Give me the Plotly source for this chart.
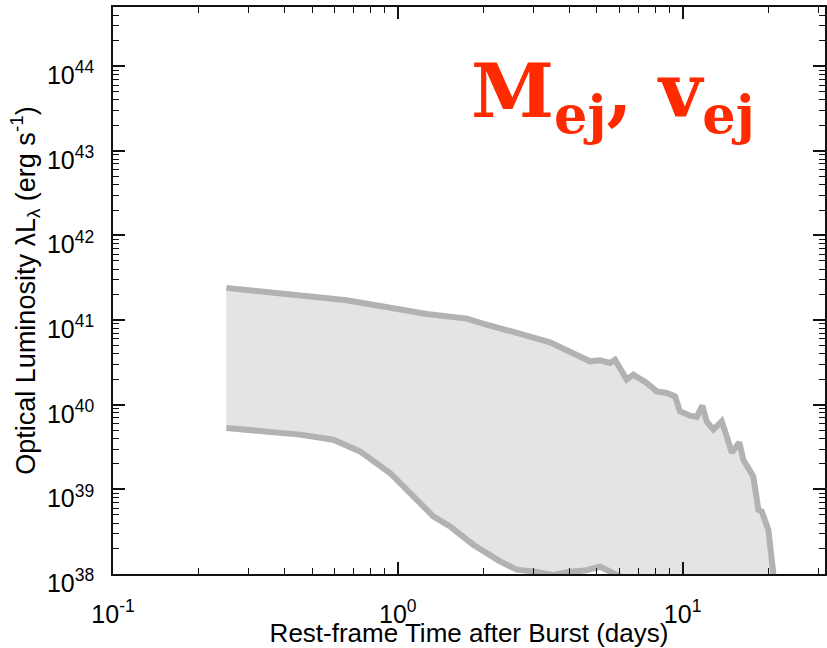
import plotly.graph_objects as go

# Upper envelope (days, log10 erg/s)
upper_t = [0.25, 0.406, 0.662, 1.263, 1.746, 1.991, 2.341, 2.752, 3.422, 4.024, 4.48, 4.73,
           5.129, 5.562, 5.79, 6.365, 6.714, 7.481, 8.11, 8.795, 9.404, 9.79, 10.62, 11.21,
           11.73, 12.15, 12.82, 13.72, 14.28, 14.88, 15.82, 16.34, 17.71, 18.45, 18.96, 20.0,
           20.83, 21.1]
upper_logL = [41.381, 41.307, 41.234, 41.073, 41.018, 40.959, 40.900, 40.829, 40.738, 40.631,
              40.553, 40.513, 40.525, 40.494, 40.533, 40.297, 40.356, 40.258, 40.158, 40.139,
              40.099, 39.922, 39.871, 39.856, 39.989, 39.804, 39.706, 39.804, 39.627, 39.434,
              39.556, 39.351, 39.154, 38.76, 38.74, 38.524, 38.0, 37.7]

# Lower envelope
lower_t = [0.25, 0.4535, 0.5935, 0.7364, 0.9389, 1.104, 1.332, 1.525, 1.841, 2.285, 2.615,
           2.991, 3.516, 4.02, 4.54, 5.13, 5.56, 6.03, 7.7, 11.5, 20.8]
lower_logL = [39.726, 39.647, 39.587, 39.449, 39.194, 38.957, 38.681, 38.563, 38.346, 38.149,
              38.051, 38.031, 37.99, 38.027, 38.04, 38.086, 38.027, 37.96, 37.8, 37.7, 37.6]

upper_L = [10.0 ** v for v in upper_logL]
lower_L = [10.0 ** v for v in lower_logL]

y_ticks = [1e38, 1e39, 1e40, 1e41, 1e42, 1e43, 1e44]
y_ticktext = ["10<sup>38</sup>", "10<sup>39</sup>", "10<sup>40</sup>", "10<sup>41</sup>",
              "10<sup>42</sup>", "10<sup>43</sup>", "10<sup>44</sup>"]
x_ticks = [0.1, 1.0, 10.0]
x_ticktext = ["10<sup>-1</sup>", "10<sup>0</sup>", "10<sup>1</sup>"]

x_minor = [k * 10.0 ** e for e in (-1, 0, 1) for k in range(2, 10) if k * 10.0 ** e <= 31]
y_minor = [k * 10.0 ** e for e in range(38, 45) for k in range(2, 10) if k * 10.0 ** e <= 5e44]

fill_col = "#e4e4e4"
line_col = "#b2b2b2"
axis_col = "#111111"

fig = go.Figure()
fig.add_trace(go.Scatter(
    x=upper_t + lower_t[::-1], y=upper_L + lower_L[::-1],
    fill="toself", fillcolor=fill_col, line=dict(width=0), mode="lines",
    hoverinfo="skip", showlegend=False))
fig.add_trace(go.Scatter(x=upper_t, y=upper_L, mode="lines",
                         line=dict(color=line_col, width=6), showlegend=False))
fig.add_trace(go.Scatter(x=lower_t, y=lower_L, mode="lines",
                         line=dict(color=line_col, width=6), showlegend=False))

tick_font = dict(family="Liberation Sans, Arial, sans-serif", size=25, color="black")
xtitle_font = dict(family="Liberation Sans, Arial, sans-serif", size=26, color="black")
ytitle_font = dict(family="Liberation Sans, Arial, sans-serif", size=27, color="black")

fig.update_xaxes(
    type="log", range=[-1, 1.5], automargin=False,
    showline=True, linecolor=axis_col, linewidth=1.5, mirror="ticks",
    ticks="inside", ticklen=12, tickwidth=1.5, tickcolor=axis_col,
    tickmode="array", tickvals=x_ticks, ticktext=x_ticktext, tickfont=tick_font,
    ticklabelstandoff=17,
    minor=dict(tickmode="array", tickvals=x_minor, ticks="inside", ticklen=6,
               tickwidth=1.2, tickcolor=axis_col, showgrid=False),
    showgrid=False, zeroline=False,
    title=dict(text="Rest-frame Time after Burst (days)", font=xtitle_font, standoff=3),
)
fig.update_yaxes(
    type="log", range=[38, 44.7], automargin=False,
    showline=True, linecolor=axis_col, linewidth=1.5, mirror="ticks",
    ticks="inside", ticklen=12, tickwidth=1.5, tickcolor=axis_col,
    tickmode="array", tickvals=y_ticks, ticktext=y_ticktext, tickfont=tick_font,
    ticklabelshift=9, ticklabelstandoff=12,
    minor=dict(tickmode="array", tickvals=y_minor, ticks="inside", ticklen=6,
               tickwidth=1.2, tickcolor=axis_col, showgrid=False),
    showgrid=False, zeroline=False,
    title=dict(text="Optical Luminosity λL<sub>λ</sub> (erg s<sup>-1</sup>)", font=ytitle_font, standoff=4),
)

fig.add_annotation(
    xref="paper", yref="paper", x=0.5, y=0.843, xanchor="left", yanchor="middle",
    text="<b>M<sub>ej</sub>, v<sub>ej</sub></b>", showarrow=False,
    font=dict(family="DejaVu Serif", size=75, color="#ff2a00"))

fig.update_layout(
    width=827, height=648,
    margin=dict(l=113, r=2, t=7, b=74),
    plot_bgcolor="white", paper_bgcolor="white",
)

fig.write_html("out.html", config={"displayModeBar": False},
               post_script="document.body.style.margin='0';")
